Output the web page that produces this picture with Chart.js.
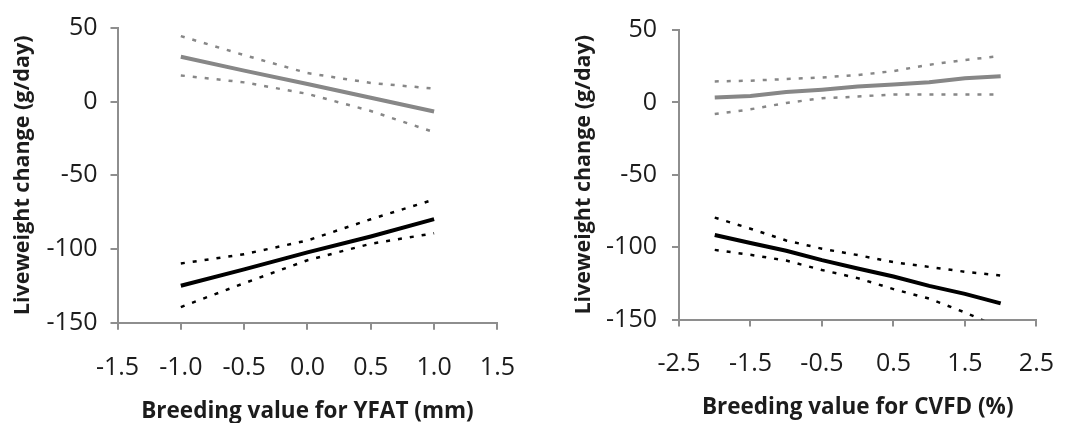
<!DOCTYPE html>
<html>
<head>
<meta charset="utf-8">
<script src="https://cdn.jsdelivr.net/npm/chart.js@4.4.1/dist/chart.umd.min.js"></script>
<style>
  html, body { margin: 0; padding: 0; background: #fff; }
  #wrap { position: relative; width: 1076px; height: 423px; }
  .box { position: absolute; top: 0; width: 538px; height: 423px; }
  #box1 { left: 0; }
  #box2 { left: 538px; }
</style>
</head>
<body>
<div id="wrap">
  <div class="box" id="box1"><canvas id="chart-yfat"></canvas></div>
  <div class="box" id="box2"><canvas id="chart-cvfd"></canvas></div>
</div>
<script>
// 왼쪽: YFAT
const yfatX = [-1.0, -0.5, 0.0, 0.5, 1.0];
const yfatGrayFit = [30.5, 21.1, 12.0, 2.7, -6.7];
const yfatGrayUpper = [44.5, 31.6, 19.4, 12.7, 8.9];
const yfatGrayLower = [17.8, 13.1, 5.3, -6.3, -20.7];
const yfatBlackFit = [-124.9, -113.8, -102.3, -91.5, -79.7];
const yfatBlackUpper = [-109.8, -103.5, -94.2, -79.8, -66.4];
const yfatBlackLower = [-139.4, -123.2, -107.6, -96.4, -89.3];
const yfatTicks = [-1.5, -1.0, -0.5, 0.0, 0.5, 1.0, 1.5];

// 오른쪽: CVFD
const cvfdX = [-2.0, -1.5, -1.0, -0.5, 0.0, 0.5, 1.0, 1.5, 2.0];
const cvfdGrayFit = [3.3, 4.4, 7.1, 8.8, 11.0, 12.3, 13.9, 16.7, 18.0];
const cvfdGrayUpper = [14.5, 15.0, 16.1, 17.2, 18.9, 21.6, 26.0, 29.3, 32.0];
const cvfdGrayLower = [-8.1, -4.8, -0.4, 2.9, 4.0, 5.5, 5.5, 5.5, 5.5];
const cvfdBlackFit = [-91.6, -97.2, -102.5, -109.0, -114.8, -120.3, -126.8, -132.3, -138.9];
const cvfdBlackUpper = [-79.6, -87.3, -95.4, -101.1, -105.5, -110.4, -113.7, -117.0, -119.6];
const cvfdBlackLower = [-101.9, -105.3, -109.3, -115.8, -121.4, -129.0, -135.6, -145.1, -156.0];
const cvfdTicks = [-2.5, -1.5, -0.5, 0.5, 1.5, 2.5];

const yTicks = [-150, -100, -50, 0, 50];
const yTitle = "Liveweight change (g/day)";

const GRAY = "#878787";
const AXIS = "#8e8e8e";
const TEXT = "#1c1c1c";
const FONT = "'Open Sans', 'Noto Sans', sans-serif";

function pts(xs, ys) {
    let out = [];
    for (let i = 0; i < xs.length; i++) {
        out.push({ x: xs[i], y: ys[i] });
    }
    return out;
}

function line(xs, ys, color, width, dashed) {
    return {
        data: pts(xs, ys),
        borderColor: color,
        borderWidth: width,
        borderDash: dashed ? [4, 8] : [],
        pointRadius: 0,
        tension: 0,
        fill: false
    };
}

function makeChart(id, s) {
    return new Chart(document.getElementById(id), {
        type: "line",
        data: {
            datasets: [
                line(s.x, s.grayUpper, GRAY, 2.5, true),
                line(s.x, s.grayLower, GRAY, 2.5, true),
                line(s.x, s.grayFit, GRAY, 4, false),
                line(s.x, s.blackUpper, "#000", 2.5, true),
                line(s.x, s.blackLower, "#000", 2.5, true),
                line(s.x, s.blackFit, "#000", 4, false)
            ]
        },
        options: {
            responsive: true,
            maintainAspectRatio: false,
            animation: false,
            layout: { padding: s.pad },
            plugins: { legend: { display: false }, tooltip: { enabled: false } },
            scales: {
                x: {
                    type: "linear",
                    min: s.ticks[0],
                    max: s.ticks[s.ticks.length - 1],
                    afterBuildTicks: function (sc) {
                        sc.ticks = s.ticks.map(v => ({ value: v }));
                    },
                    afterFit: function (sc) { sc.height = s.xHeight; },
                    grid: { drawOnChartArea: false, drawTicks: true, tickLength: 7, color: AXIS, lineWidth: 2 },
                    border: { color: AXIS, width: 2 },
                    ticks: {
                        color: TEXT,
                        padding: s.xTickPad,
                        maxRotation: 0,
                        font: { family: FONT, size: 25 },
                        callback: s.fmt
                    },
                    title: {
                        display: true,
                        text: s.xTitle,
                        color: TEXT,
                        padding: { top: 0, bottom: s.xTitlePad },
                        font: { family: FONT, size: 22.5, weight: "bold", lineHeight: 1 }
                    }
                },
                y: {
                    min: -150,
                    max: 50,
                    afterBuildTicks: function (sc) {
                        sc.ticks = yTicks.map(v => ({ value: v }));
                    },
                    afterFit: function (sc) { sc.width = s.yWidth; },
                    grid: { drawOnChartArea: false, drawTicks: true, tickLength: 7, color: AXIS, lineWidth: 2 },
                    border: { color: AXIS, width: 2 },
                    ticks: {
                        color: TEXT,
                        padding: s.yTickPad,
                        font: { family: FONT, size: 25 }
                    },
                    title: {
                        display: true,
                        text: yTitle,
                        color: TEXT,
                        padding: { top: s.yTitlePad, bottom: 0 },
                        font: { family: FONT, size: 21.5, weight: "bold", lineHeight: 1 }
                    }
                }
            }
        }
    });
}

window.addEventListener("load", function () {
    makeChart("chart-yfat", {
        x: yfatX,
        grayFit: yfatGrayFit, grayUpper: yfatGrayUpper, grayLower: yfatGrayLower,
        blackFit: yfatBlackFit, blackUpper: yfatBlackUpper, blackLower: yfatBlackLower,
        ticks: yfatTicks,
        fmt: v => v.toFixed(1),
        xTitle: "Breeding value for YFAT (mm)",
        pad: { left: 0, top: 23, right: 34.5, bottom: 0 },
        xHeight: 100.3, yWidth: 117.5,
        xTickPad: 23, yTickPad: 13,
        xTitlePad: 0, yTitlePad: 12.25
    });
    makeChart("chart-cvfd", {
        x: cvfdX,
        grayFit: cvfdGrayFit, grayUpper: cvfdGrayUpper, grayLower: cvfdGrayLower,
        blackFit: cvfdBlackFit, blackUpper: cvfdBlackUpper, blackLower: cvfdBlackLower,
        ticks: cvfdTicks,
        fmt: v => v.toFixed(1),
        xTitle: "Breeding value for CVFD (%)",
        pad: { left: 0, top: 17, right: 20, bottom: 0 },
        xHeight: 103.5, yWidth: 141,
        xTickPad: 22, yTickPad: 15,
        xTitlePad: 3.75, yTitlePad: 35.25
    });
});
</script>
</body>
</html>
